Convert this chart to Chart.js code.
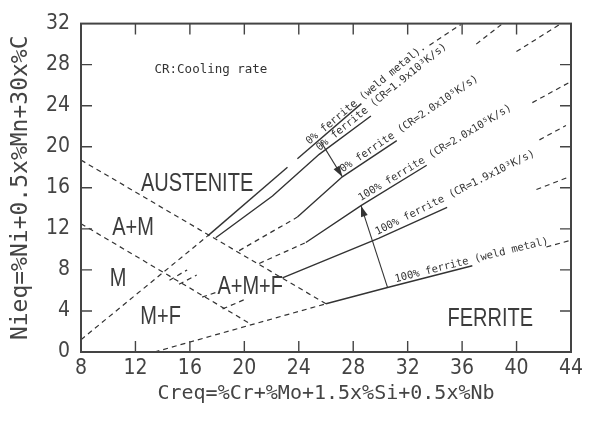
<!DOCTYPE html>
<html>
<head>
<meta charset="utf-8">
<script src="https://cdn.jsdelivr.net/npm/chart.js@4.4.0/dist/chart.umd.min.js"></script>
<style>
  html, body { margin: 0; padding: 0; background: #fff; }
</style>
</head>
<body>
<canvas id="chart" width="596" height="423"></canvas>
<script>
// axis ticks
const xTicks = [8, 12, 16, 20, 24, 28, 32, 36, 40, 44];
const yTicks = [0, 4, 8, 12, 16, 20, 24, 28, 32];

// phase boundaries, points are [Creq, Nieq]
const austeniteBoundary = [[8, 18.7], [26, 4.7]];
const martensiteBoundary = [[8, 12.5], [20.5, 2.7]];
const zeroFerriteLower = [[8, 1.2], [17.29, 11.29]];
const fullFerriteLower = [[13.4, 0], [26, 4.7]];
const shortDashes = [
  [[14.5, 7.0], [15.8, 8.0]],
  [[15.2, 6.6], [16.5, 7.5]],
  [[16.9, 5.35], [17.9, 5.8]],
  [[18.4, 4.2], [20.0, 5.1]],
];

// 0% ferrite, weld metal
const zeroWeldSolid = [[17.29, 11.29], [23.17, 18.0]];
const zeroWeldSolid2 = [[23.9, 18.83], [28.6, 24.2]];
const zeroWeldExt = [[33.6, 29.9], [35.9, 31.9]];
// 0% ferrite, CR=1.9x10^3 K/s
const zeroCR3Solid = [[17.9, 11.13], [22.07, 15.2], [25.5, 19.26], [29.3, 23.0]];
const zeroCR3Ext = [[37.04, 30.0], [38.88, 31.9]];
// 0% ferrite, CR=2.0x10^5 K/s
const zeroCR5Dash = [[19.62, 9.88], [23.9, 13.15]];
const zeroCR5Solid = [[23.9, 13.15], [27.2, 17.07], [31.2, 20.6]];
const zeroCR5Ext = [[39.99, 29.27], [43.15, 31.9]];
// 100% ferrite, CR=2.0x10^5 K/s
const fullCR5Dash = [[21.09, 8.63], [24.52, 10.67]];
const fullCR5Solid = [[24.52, 10.67], [28.57, 14.26], [33.4, 18.2]];
const fullCR5Ext = [[41.16, 24.3], [43.88, 26.27]];
// 100% ferrite, CR=1.9x10^3 K/s
const fullCR3Solid = [[22.8, 7.22], [29.9, 11.1], [34.9, 14.1]];
const fullCR3Ext = [[41.46, 15.83], [43.88, 17.07]];
const extraExt = [[41.68, 20.67], [43.63, 22.07]];
// 100% ferrite, weld metal
const fullWeldSolid = [[26, 4.7], [30.52, 6.29], [36.75, 8.4]];
const fullWeldExt = [[42.19, 10.23], [43.96, 10.88]];

// arrows (tail, head)
const arrowZero = [[25.62, 20.5], [27.2, 17.07]];
const arrowFull = [[30.52, 6.29], [28.57, 14.26]];

// labels along the lines
const lineLabelText = [
  "0% ferrite (weld metal).",
  "0% ferrite (CR=1.9x10³K/s)",
  "0% ferrite (CR=2.0x10⁵K/s)",
  "100% ferrite (CR=2.0x10⁵K/s)",
  "100% ferrite (CR=1.9x10³K/s)",
  "100% ferrite (weld metal)",
];
const lineLabelFrom = [[24.85, 19.9], [25.6, 19.3], [27.3, 17.2], [28.6, 14.4], [29.8, 11.1], [31.1, 6.5]];
const lineLabelTo = [[33.5, 29.4], [35.3, 29.7], [37.5, 26.4], [39.7, 23.3], [41.5, 18.9], [42.2, 10.2]];

// region names
const regionNames = ["AUSTENITE", "A+M", "M", "M+F", "A+M+F", "FERRITE"];
const regionAt = [[16.53, 16.4], [11.82, 12.1], [10.72, 7.08], [13.85, 3.38], [20.43, 6.29], [38.07, 3.24]];
const noteText = "CR:Cooling rate";
const noteAt = [13.4, 27.5];

const INK = "#333";
const NARROW = "'Liberation Sans Narrow', 'DejaVu Sans Condensed', 'DejaVu Sans', sans-serif";
const MONO = "'DejaVu Sans Mono', monospace";

const toPts = (arr) => arr.map(([x, y]) => ({ x, y }));
const seg = (points, dashed, width) => ({
  data: toPts(points),
  showLine: true,
  borderColor: INK,
  borderWidth: width || 1.4,
  borderDash: dashed ? [5, 4] : [],
  pointRadius: 0,
  fill: false,
  tension: 0,
});

const datasets = [
  seg(austeniteBoundary, true, 1.2),
  seg(martensiteBoundary, true, 1.2),
  seg(zeroFerriteLower, true, 1.2),
  seg(fullFerriteLower, true, 1.2),
  ...shortDashes.map((d) => seg(d, true, 1.2)),
  seg(zeroWeldSolid, false),
  seg(zeroWeldSolid2, false),
  seg(zeroWeldExt, true, 1.2),
  seg(zeroCR3Solid, false),
  seg(zeroCR3Ext, true, 1.2),
  seg(zeroCR5Dash, true, 1.2),
  seg(zeroCR5Solid, false),
  seg(zeroCR5Ext, true, 1.2),
  seg(fullCR5Dash, true, 1.2),
  seg(fullCR5Solid, false),
  seg(fullCR5Ext, true, 1.2),
  seg(fullCR3Solid, false),
  seg(fullCR3Ext, true, 1.2),
  seg(extraExt, true, 1.2),
  seg(fullWeldSolid, false),
  seg(fullWeldExt, true, 1.2),
  seg(arrowZero, false, 1.1),
  seg(arrowFull, false, 1.1),
];

const decor = {
  id: "decor",
  afterDatasetsDraw(chart) {
    const { ctx, chartArea: a, scales: { x, y } } = chart;
    const px = (p) => [x.getPixelForValue(p[0]), y.getPixelForValue(p[1])];
    ctx.save();

    // frame and inward ticks
    ctx.strokeStyle = "#444";
    ctx.lineWidth = 2;
    ctx.strokeRect(a.left, a.top, a.right - a.left, a.bottom - a.top);
    ctx.lineWidth = 1.4;
    ctx.beginPath();
    xTicks.slice(1, -1).forEach((v) => {
      const X = x.getPixelForValue(v);
      ctx.moveTo(X, a.bottom); ctx.lineTo(X, a.bottom - 11);
      ctx.moveTo(X, a.top); ctx.lineTo(X, a.top + 11);
    });
    yTicks.slice(1, -1).forEach((v) => {
      const Y = y.getPixelForValue(v);
      ctx.moveTo(a.left, Y); ctx.lineTo(a.left + 11, Y);
      ctx.moveTo(a.right, Y); ctx.lineTo(a.right - 11, Y);
    });
    ctx.stroke();

    // arrow heads
    [arrowZero, arrowFull].forEach((arr) => {
      const [x0, y0] = px(arr[0]);
      const [x1, y1] = px(arr[1]);
      const ang = Math.atan2(y1 - y0, x1 - x0);
      ctx.save();
      ctx.translate(x1, y1);
      ctx.rotate(ang);
      ctx.fillStyle = INK;
      ctx.beginPath();
      ctx.moveTo(0, 0);
      ctx.lineTo(-11, -3.5);
      ctx.lineTo(-11, 3.5);
      ctx.closePath();
      ctx.fill();
      ctx.restore();
    });

    // labels along lines
    ctx.fillStyle = INK;
    ctx.font = "10.5px " + MONO;
    ctx.textBaseline = "alphabetic";
    ctx.textAlign = "left";
    lineLabelText.forEach((t, i) => {
      const [x0, y0] = px(lineLabelFrom[i]);
      const [x1, y1] = px(lineLabelTo[i]);
      ctx.save();
      ctx.translate(x0, y0);
      ctx.rotate(Math.atan2(y1 - y0, x1 - x0));
      ctx.fillText(t, 1, -3);
      ctx.restore();
    });

    // region names, narrowed Liberation Sans
    ctx.fillStyle = "#3c3c3c";
    ctx.font = "25px 'Liberation Sans', Arial, sans-serif";
    ctx.textAlign = "center";
    ctx.textBaseline = "middle";
    regionNames.forEach((t, i) => {
      const [X, Y] = px(regionAt[i]);
      ctx.save();
      ctx.translate(X, Y);
      ctx.scale(0.8, 1);
      ctx.fillText(t, 0, 0);
      ctx.restore();
    });

    // note
    ctx.font = "12.5px " + MONO;
    ctx.textAlign = "left";
    ctx.fillStyle = INK;
    const [nx, ny] = px(noteAt);
    ctx.fillText(noteText, nx, ny);

    ctx.restore();
  },
};

Chart.defaults.color = "#444";

new Chart(document.getElementById("chart"), {
  type: "scatter",
  data: { datasets },
  options: {
    responsive: false,
    animation: false,
    layout: { padding: { top: 11, right: 25, left: 0, bottom: 0 } },
    plugins: { legend: { display: false }, tooltip: { enabled: false } },
    scales: {
      x: {
        type: "linear",
        min: 8,
        max: 44,
        afterBuildTicks: (axis) => { axis.ticks = xTicks.map((v) => ({ value: v })); },
        afterFit: (s) => { s.height = 71; },
        grid: { display: false, drawTicks: false },
        border: { display: false },
        ticks: { padding: 4, font: { family: NARROW, size: 21 }, color: "#444" },
        title: {
          display: true,
          text: "Creq=%Cr+%Mo+1.5x%Si+0.5x%Nb",
          font: { family: MONO, size: 20 },
          color: "#444",
          padding: { top: 0, bottom: 17 },
        },
      },
      y: {
        type: "linear",
        min: 0,
        max: 32,
        afterBuildTicks: (axis) => { axis.ticks = yTicks.map((v) => ({ value: v })); },
        afterFit: (s) => { s.width = 81; },
        grid: { display: false, drawTicks: false },
        border: { display: false },
        ticks: { padding: 11, font: { family: NARROW, size: 21 }, color: "#444" },
        title: {
          display: true,
          text: "Nieq=%Ni+0.5x%Mn+30x%C",
          font: { family: MONO, size: 23 },
          color: "#444",
          padding: { top: 7, bottom: 0 },
        },
      },
    },
  },
  plugins: [decor],
});
</script>
</body>
</html>
